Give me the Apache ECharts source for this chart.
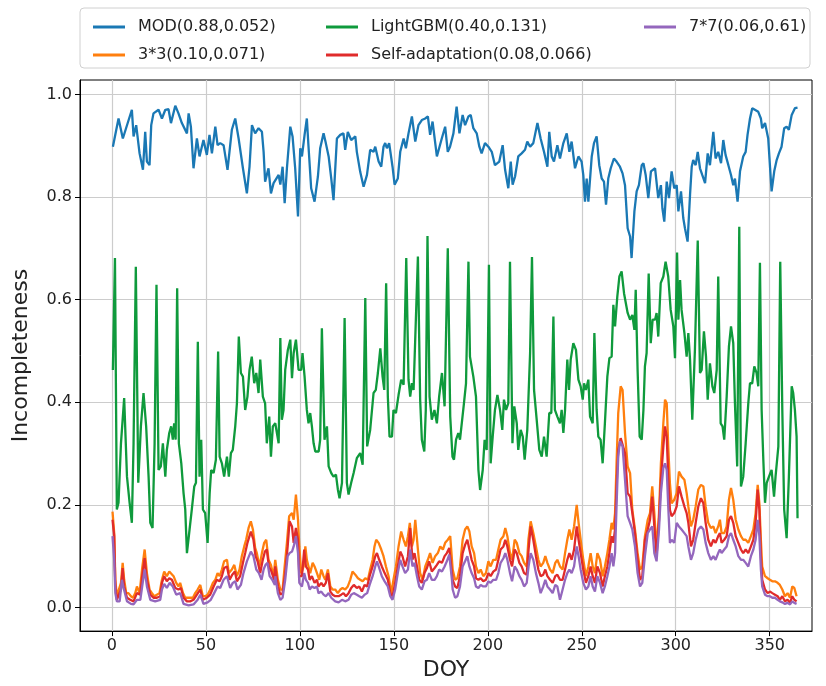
<!DOCTYPE html>
<html><head><meta charset="utf-8">
<script src="https://cdn.jsdelivr.net/npm/echarts@6/dist/echarts.min.js"></script>
<style>html,body{margin:0;padding:0;background:#fff}#c{width:826px;height:686px}</style>
</head><body><div id="c"></div>
<script>
const seriesNames = ['MOD(0.88,0.052)','3*3(0.10,0.071)','LightGBM(0.40,0.131)','Self-adaptation(0.08,0.066)','7*7(0.06,0.61)'];
const xTicks = [0,50,100,150,200,250,300,350];
const yTicks = [0,0.2,0.4,0.6,0.8,1.0];

const modData = [[0.5,.898],[3.5,.953],[5.8,.914],[10.6,.970],[11.5,.918],[12.9,.940],[14.7,.885],[16.5,.853],[17.7,.927],[18.6,.869],[20.0,.862],[20.9,.940],[22.1,.963],[24.8,.970],[26.6,.953],[28.4,.970],[30.1,.971],[31.4,.944],[33.7,.978],[35.4,.963],[37.2,.944],[39.9,.924],[40.8,.963],[42.0,.937],[43.4,.856],[45.2,.914],[46.6,.879],[48.7,.911],[50.5,.882],[51.9,.921],[53.2,.885],[55.0,.937],[56.2,.901],[57.6,.905],[59.4,.901],[61.5,.853],[63.8,.931],[65.6,.953],[67.4,.914],[69.7,.856],[71.8,.807],[73.2,.859],[74.5,.940],[76.2,.924],[78.0,.934],[79.8,.927],[80.7,.888],[81.5,.830],[83.3,.856],[84.6,.807],[86.0,.827],[86.9,.830],[88.7,.843],[89.6,.824],[90.8,.859],[91.9,.788],[93.1,.856],[94.9,.937],[96.1,.918],[97.5,.856],[99.0,.762],[100.2,.895],[101.1,.879],[102.5,.921],[103.7,.953],[104.6,.898],[106.0,.817],[107.8,.791],[109.6,.840],[110.8,.895],[112.6,.924],[113.8,.905],[115.3,.879],[116.7,.836],[117.9,.794],[119.7,.914],[121.5,.921],[123.2,.924],[124.1,.892],[125.5,.927],[127.3,.911],[129.5,.918],[130.3,.888],[132.1,.849],[133.9,.820],[135.7,.843],[137.4,.892],[139.2,.888],[140.1,.898],[141.9,.869],[143.3,.859],[144.5,.898],[145.4,.905],[146.3,.895],[147.5,.905],[149.3,.859],[150.4,.824],[152.1,.836],[153.4,.888],[155.2,.914],[156.4,.895],[157.8,.924],[159.6,.957],[161.4,.908],[163.1,.940],[164.9,.950],[166.7,.953],[168.1,.957],[169.3,.921],[170.6,.947],[172.9,.879],[175.5,.914],[177.3,.937],[178.7,.888],[179.9,.898],[181.7,.924],[183.4,.976],[184.9,.924],[186.6,.960],[187.9,.940],[189.7,.957],[190.9,.960],[192.3,.934],[194.1,.924],[195.5,.898],[196.7,.885],[198.5,.905],[200.3,.898],[202.1,.888],[203.8,.862],[206.1,.869],[207.9,.901],[209.2,.853],[210.9,.817],[212.2,.869],[213.2,.824],[214.5,.840],[216.2,.879],[218.0,.885],[219.8,.892],[221.0,.908],[222.5,.898],[224.2,.905],[226.4,.944],[228.1,.914],[229.9,.888],[231.7,.859],[232.7,.927],[234.0,.879],[235.2,.869],[237.0,.901],[238.4,.875],[240.2,.905],[242.0,.924],[243.4,.888],[244.6,.908],[246.4,.856],[248.2,.879],[249.9,.869],[250.8,.843],[251.7,.791],[252.6,.836],[253.5,.791],[255.3,.879],[256.5,.905],[257.9,.918],[259.3,.862],[260.6,.836],[261.8,.830],[262.9,.785],[264.1,.836],[265.4,.856],[267.1,.875],[268.5,.869],[270.3,.859],[271.7,.846],[273.0,.823],[274.4,.739],[275.7,.723],[276.5,.681],[278.0,.772],[279.2,.811],[280.4,.823],[281.9,.862],[282.8,.866],[284.0,.843],[285.4,.798],[286.8,.850],[289.0,.856],[289.8,.859],[290.7,.798],[292.1,.823],[292.9,.778],[293.9,.752],[295.2,.830],[296.4,.798],[297.8,.850],[299.2,.817],[300.5,.823],[301.4,.772],[302.8,.811],[304.0,.759],[304.9,.739],[306.3,.713],[307.6,.804],[308.5,.859],[309.3,.872],[310.6,.862],[311.7,.888],[312.9,.856],[314.1,.843],[315.6,.827],[317.0,.885],[318.2,.862],[320.0,.927],[321.2,.875],[322.6,.888],[324.1,.866],[325.3,.911],[326.5,.882],[328.0,.862],[329.4,.843],[330.6,.823],[331.5,.836],[332.9,.791],[334.2,.850],[335.9,.879],[337.2,.888],[338.2,.921],[339.5,.953],[340.7,.973],[342.1,.970],[343.9,.966],[345.3,.953],[346.0,.934],[347.5,.944],[349.2,.914],[351.0,.811],[352.4,.850],[353.7,.872],[354.9,.885],[356.3,.898],[357.7,.934],[359.0,.937],[360.2,.931],[361.7,.960],[363.4,.973],[364.8,.974]];

const lgbData = [[0.5,.463],[1.6,.681],[2.6,.191],[3.5,.204],[4.8,.320],[6.5,.408],[8.0,.255],[9.4,.204],[10.6,.165],[11.5,.320],[12.7,.664],[14.0,.243],[15.4,.353],[16.8,.418],[18.2,.353],[19.5,.255],[20.4,.165],[21.6,.155],[22.7,.320],[23.7,.629],[24.8,.268],[26.0,.275],[27.1,.320],[28.4,.255],[29.2,.307],[30.5,.340],[31.5,.353],[32.4,.327],[33.1,.359],[33.9,.327],[34.7,.622],[35.6,.320],[36.9,.281],[38.1,.223],[39.0,.191],[39.9,.106],[41.3,.152],[42.5,.191],[43.8,.236],[44.7,.243],[45.7,.518],[46.6,.255],[47.5,.327],[48.4,.191],[49.6,.184],[50.9,.126],[52.0,.223],[52.8,.268],[54.1,.262],[55.3,.288],[56.5,.499],[57.3,.294],[58.5,.281],[59.7,.255],[61.2,.294],[62.2,.255],[63.3,.301],[64.3,.307],[65.6,.353],[66.5,.398],[67.5,.528],[68.6,.457],[69.7,.450],[70.9,.385],[72.1,.411],[73.2,.463],[74.4,.489],[75.7,.437],[76.8,.457],[78.0,.418],[78.9,.483],[80.3,.411],[81.5,.398],[82.4,.320],[83.7,.372],[84.6,.294],[85.6,.353],[86.9,.359],[88.7,.320],[89.6,.525],[90.4,.366],[91.3,.385],[92.2,.463],[93.6,.502],[94.9,.522],[95.8,.447],[96.7,.496],[97.9,.522],[99.3,.463],[100.7,.463],[101.4,.496],[102.5,.450],[103.7,.385],[104.6,.359],[105.5,.379],[106.4,.353],[107.3,.320],[108.2,.304],[110.0,.304],[110.8,.327],[111.7,.544],[113.1,.327],[114.4,.353],[115.3,.275],[116.7,.262],[117.9,.255],[119.2,.259],[120.2,.230],[121.1,.213],[122.4,.243],[123.8,.564],[125.0,.243],[125.9,.220],[127.3,.243],[128.6,.262],[130.3,.291],[132.1,.301],[133.4,.278],[134.8,.603],[135.8,.314],[137.4,.346],[139.2,.418],[140.4,.424],[141.5,.457],[142.8,.505],[144.0,.450],[144.9,.424],[145.9,.632],[146.8,.411],[147.7,.333],[149.0,.333],[149.8,.385],[151.1,.379],[152.5,.414],[153.9,.444],[155.2,.434],[156.6,.681],[157.8,.444],[158.7,.411],[159.6,.437],[160.5,.424],[162.8,.684],[164.0,.405],[164.9,.327],[166.2,.304],[167.0,.385],[167.9,.724],[169.0,.411],[170.2,.366],[171.6,.385],[172.9,.359],[174.1,.411],[175.6,.457],[177.0,.392],[177.9,.392],[178.7,.700],[180.0,.372],[181.2,.294],[182.0,.288],[183.1,.327],[184.3,.340],[185.2,.327],[186.1,.327],[187.3,.398],[188.4,.437],[189.7,.674],[190.5,.489],[192.3,.450],[193.7,.411],[195.0,.268],[195.9,.229],[197.3,.268],[198.3,.327],[199.4,.307],[200.6,.668],[201.5,.281],[202.6,.333],[203.8,.385],[205.1,.414],[206.5,.385],[207.7,.346],[208.6,.405],[209.7,.385],[210.9,.398],[211.8,.674],[213.1,.320],[214.1,.392],[215.4,.359],[216.2,.307],[217.5,.346],[218.6,.333],[219.6,.288],[221.0,.346],[222.5,.496],[223.5,.683],[224.6,.424],[226.0,.366],[227.4,.307],[228.7,.294],[229.9,.333],[231.3,.294],[232.7,.379],[233.8,.379],[234.9,.567],[235.7,.385],[237.0,.372],[238.4,.359],[239.3,.385],[240.2,.340],[241.1,.385],[242.3,.483],[243.2,.424],[244.1,.483],[245.5,.515],[246.9,.502],[248.2,.444],[249.4,.431],[250.5,.405],[251.2,.437],[252.2,.424],[253.5,.444],[254.4,.372],[255.8,.359],[256.7,.535],[257.9,.385],[258.8,.333],[260.0,.327],[261.1,.281],[262.3,.359],[263.6,.450],[264.7,.486],[265.9,.489],[266.8,.590],[267.7,.548],[268.9,.606],[270.0,.645],[271.2,.655],[272.5,.612],[274.4,.574],[275.7,.561],[276.9,.570],[278.0,.541],[278.7,.619],[279.7,.463],[280.8,.333],[281.9,.327],[282.8,.385],[283.6,.470],[284.5,.496],[285.6,.651],[286.7,.515],[287.7,.561],[289.0,.561],[289.8,.574],[290.7,.528],[292.0,.632],[293.4,.645],[294.6,.674],[296.0,.645],[297.3,.580],[298.7,.548],[299.6,.486],[300.7,.692],[301.4,.561],[302.3,.638],[303.1,.580],[304.6,.535],[305.8,.489],[306.7,.535],[307.6,.483],[308.8,.366],[310.2,.502],[311.7,.715],[312.9,.457],[313.8,.463],[315.0,.538],[316.1,.489],[317.0,.405],[318.2,.476],[319.5,.431],[320.5,.418],[321.8,.463],[322.6,.645],[323.9,.359],[324.9,.353],[325.8,.327],[327.1,.411],[328.3,.509],[329.4,.548],[330.6,.515],[331.5,.398],[332.7,.275],[333.8,.742],[334.7,.236],[335.9,.255],[337.2,.320],[338.6,.398],[339.5,.437],[340.7,.437],[341.8,.470],[343.0,.457],[343.9,.431],[344.8,.672],[345.7,.385],[346.6,.288],[347.5,.204],[348.4,.243],[349.6,.255],[351.0,.268],[352.3,.216],[353.1,.255],[354.6,.314],[355.6,.674],[356.7,.385],[357.7,.191],[359.0,.135],[360.2,.255],[361.7,.431],[362.5,.418],[363.4,.385],[364.3,.333],[364.8,.174]];

const k3Data = [[0.3,.187],[1.2,.145],[1.8,.054],[2.6,.022],[3.5,.022],[4.8,.048],[5.7,.087],[6.5,.054],[7.6,.028],[8.8,.028],[10.1,.022],[11.2,.019],[12.4,.028],[13.3,.041],[14.7,.028],[16.0,.074],[17.4,.113],[18.6,.067],[20.0,.035],[21.3,.028],[22.5,.022],[23.9,.025],[25.3,.028],[26.6,.054],[27.8,.070],[29.2,.061],[30.5,.070],[31.4,.067],[32.8,.061],[34.2,.048],[35.4,.041],[36.3,.048],[37.8,.028],[39.0,.019],[40.2,.019],[41.6,.019],[43.1,.019],[44.3,.028],[45.6,.035],[47.0,.044],[48.4,.022],[49.6,.022],[50.9,.025],[52.3,.035],[53.7,.048],[55.0,.054],[56.2,.067],[57.3,.061],[58.5,.074],[59.7,.090],[61.2,.093],[62.2,.067],[63.8,.074],[65.1,.083],[66.5,.061],[67.9,.074],[69.1,.100],[70.4,.119],[71.4,.132],[72.7,.155],[73.9,.168],[75.0,.152],[76.2,.116],[77.1,.106],[78.5,.080],[79.8,.106],[81.0,.126],[82.1,.132],[83.3,.093],[84.6,.083],[86.0,.061],[86.9,.093],[88.3,.054],[89.6,.035],[90.8,.035],[91.9,.080],[93.1,.126],[94.3,.178],[95.8,.184],[96.7,.171],[97.9,.220],[99.0,.171],[99.7,.119],[100.7,.067],[102.0,.080],[102.9,.119],[103.7,.093],[104.6,.080],[105.5,.067],[106.8,.087],[107.8,.080],[109.1,.067],[110.3,.054],[111.4,.074],[112.6,.061],[113.5,.054],[114.9,.074],[116.2,.041],[117.4,.035],[118.8,.035],[120.2,.028],[121.5,.035],[122.7,.038],[124.1,.035],[125.5,.041],[126.8,.054],[128.0,.070],[129.5,.064],[130.9,.057],[132.1,.054],[133.4,.051],[134.8,.057],[136.2,.054],[137.4,.074],[138.7,.093],[139.7,.119],[140.6,.132],[141.9,.126],[143.3,.113],[144.5,.100],[145.8,.080],[147.2,.061],[148.6,.028],[149.8,.054],[151.1,.080],[152.5,.119],[153.9,.148],[155.2,.132],[156.4,.119],[157.5,.139],[158.5,.165],[159.6,.119],[160.5,.132],[161.4,.171],[162.8,.113],[164.0,.067],[165.3,.054],[166.7,.080],[168.1,.093],[169.3,.106],[170.6,.087],[172.0,.100],[173.4,.106],[174.7,.119],[176.1,.113],[177.3,.126],[178.7,.132],[180.0,.139],[181.3,.074],[182.6,.054],[183.8,.057],[185.2,.080],[186.6,.132],[187.9,.152],[189.1,.158],[190.2,.148],[191.4,.119],[192.7,.106],[193.7,.080],[195.0,.067],[196.2,.074],[197.6,.061],[199.0,.067],[200.3,.090],[201.5,.080],[202.9,.093],[204.4,.093],[205.6,.113],[206.8,.132],[208.3,.139],[209.3,.155],[210.4,.139],[211.8,.106],[212.9,.093],[214.3,.132],[215.4,.126],[216.8,.106],[218.0,.100],[219.3,.087],[220.7,.080],[221.6,.132],[222.8,.168],[224.2,.145],[225.6,.119],[226.9,.093],[228.1,.080],[229.5,.087],[230.6,.100],[231.7,.087],[233.1,.074],[234.5,.067],[235.9,.087],[237.0,.093],[238.4,.080],[239.8,.074],[241.1,.106],[242.3,.132],[243.4,.152],[244.6,.132],[245.9,.158],[247.3,.200],[248.3,.165],[249.4,.132],[250.8,.093],[252.2,.061],[253.5,.080],[254.7,.106],[255.8,.080],[257.0,.067],[258.3,.106],[259.7,.093],[261.1,.061],[262.3,.080],[263.6,.106],[264.7,.132],[265.9,.165],[266.8,.152],[267.7,.184],[268.5,.281],[269.4,.379],[270.7,.431],[271.7,.424],[273.0,.340],[274.4,.275],[275.7,.262],[276.9,.190],[278.3,.152],[279.7,.106],[281.0,.074],[282.2,.080],[283.6,.139],[285.1,.171],[286.3,.184],[287.5,.236],[288.6,.184],[289.8,.113],[291.1,.184],[292.1,.281],[293.4,.359],[294.3,.405],[295.2,.398],[296.0,.314],[296.9,.242],[297.8,.203],[299.2,.210],[300.5,.223],[301.7,.265],[303.1,.255],[304.6,.249],[305.8,.223],[306.7,.197],[308.1,.158],[309.3,.171],[310.6,.197],[312.0,.230],[313.4,.239],[314.7,.236],[315.9,.197],[317.3,.165],[318.7,.155],[320.0,.158],[321.2,.145],[322.6,.158],[323.5,.171],[324.4,.145],[325.8,.145],[327.1,.158],[328.3,.210],[329.4,.233],[330.6,.210],[331.9,.171],[333.3,.152],[334.7,.139],[335.9,.132],[337.2,.132],[338.6,.126],[340.0,.139],[341.3,.152],[342.5,.184],[343.6,.239],[344.5,.203],[345.3,.132],[346.0,.080],[347.5,.061],[348.9,.057],[350.1,.054],[351.4,.051],[352.8,.051],[354.2,.048],[355.4,.044],[356.7,.035],[358.1,.022],[359.5,.028],[360.8,.019],[362.0,.041],[363.1,.038],[364.3,.022]];

const selfData = [[0.3,.171],[1.2,.139],[1.8,.041],[2.6,.015],[3.5,.015],[4.8,.035],[5.7,.077],[6.5,.041],[8.0,.019],[9.7,.015],[11.5,.012],[13.3,.028],[15.1,.025],[16.1,.061],[17.4,.096],[18.6,.054],[20.4,.025],[22.1,.019],[23.9,.019],[25.7,.022],[26.6,.048],[27.8,.061],[29.2,.051],[30.5,.057],[31.9,.054],[33.7,.038],[35.4,.035],[36.7,.038],[38.1,.019],[39.9,.012],[41.6,.012],[43.4,.015],[45.2,.025],[47.0,.035],[48.4,.015],[50.5,.019],[52.3,.025],[54.1,.041],[55.8,.054],[57.3,.051],[58.5,.061],[59.7,.077],[61.2,.080],[62.6,.054],[64.0,.064],[65.4,.070],[66.5,.051],[68.2,.061],[69.7,.087],[70.9,.106],[72.1,.126],[73.9,.148],[75.3,.132],[76.4,.100],[77.5,.090],[78.9,.067],[80.1,.090],[81.4,.109],[82.4,.113],[83.5,.080],[84.9,.070],[86.3,.054],[86.9,.080],[88.3,.041],[89.6,.025],[90.8,.028],[92.2,.067],[93.5,.119],[94.5,.168],[95.8,.158],[96.7,.126],[97.9,.155],[99.0,.132],[99.7,.061],[101.1,.061],[102.3,.113],[103.2,.080],[104.3,.074],[105.2,.054],[106.4,.061],[107.8,.048],[109.1,.054],[109.9,.041],[111.4,.048],[112.6,.041],[113.8,.048],[114.9,.067],[116.2,.031],[117.4,.025],[118.8,.022],[120.6,.022],[122.0,.025],[123.2,.028],[124.5,.022],[125.9,.028],[127.3,.038],[128.7,.044],[130.3,.038],[131.6,.041],[133.0,.031],[134.4,.044],[135.8,.041],[137.1,.061],[138.7,.080],[140.1,.100],[141.0,.106],[142.2,.093],[143.6,.080],[145.1,.067],[146.8,.054],[148.1,.028],[149.3,.022],[150.7,.048],[152.1,.080],[153.4,.109],[154.6,.100],[156.0,.080],[157.5,.100],[158.7,.155],[159.9,.093],[161.0,.106],[162.3,.080],[163.5,.054],[164.9,.048],[166.3,.067],[167.6,.077],[168.8,.090],[170.2,.070],[171.7,.077],[172.9,.083],[174.1,.090],[175.6,.087],[177.0,.100],[178.2,.106],[179.5,.116],[180.9,.067],[181.3,.054],[182.6,.041],[183.8,.038],[185.2,.061],[186.6,.106],[187.9,.122],[189.1,.132],[190.2,.113],[191.4,.093],[192.7,.080],[193.7,.057],[195.0,.054],[196.2,.057],[197.6,.051],[199.0,.054],[200.3,.067],[201.5,.061],[202.9,.070],[204.4,.074],[205.6,.093],[206.8,.113],[208.3,.119],[209.3,.132],[210.4,.119],[211.8,.093],[212.9,.080],[214.3,.113],[215.4,.106],[216.8,.087],[218.0,.080],[219.3,.067],[220.7,.064],[221.7,.113],[222.8,.158],[224.2,.132],[225.6,.100],[226.9,.074],[228.1,.061],[229.5,.064],[230.6,.074],[231.7,.061],[233.1,.054],[234.5,.048],[235.9,.061],[237.0,.064],[238.4,.054],[239.8,.054],[241.1,.074],[242.3,.093],[243.4,.106],[244.6,.093],[245.9,.113],[247.3,.158],[248.3,.132],[249.4,.106],[250.8,.074],[252.2,.048],[253.5,.061],[254.7,.080],[255.8,.061],[257.0,.048],[258.3,.080],[259.7,.067],[261.1,.041],[262.3,.061],[263.6,.080],[264.7,.106],[265.9,.139],[266.8,.126],[267.7,.152],[268.5,.236],[269.4,.307],[270.7,.330],[271.7,.333],[273.0,.301],[274.4,.223],[275.7,.216],[276.9,.184],[278.3,.145],[279.7,.093],[281.0,.054],[282.2,.061],[283.6,.132],[285.1,.152],[286.3,.171],[287.5,.216],[288.6,.158],[289.8,.100],[291.1,.171],[292.1,.249],[293.4,.314],[294.3,.353],[295.2,.333],[296.0,.255],[296.9,.190],[297.8,.178],[299.2,.184],[300.5,.197],[301.7,.236],[303.1,.216],[304.6,.197],[305.8,.184],[306.7,.165],[308.1,.119],[309.3,.132],[310.6,.165],[312.0,.197],[313.4,.213],[314.7,.203],[315.9,.165],[317.3,.132],[318.7,.119],[320.0,.132],[321.2,.126],[322.6,.139],[323.5,.145],[324.4,.126],[325.8,.132],[327.1,.139],[328.3,.171],[329.4,.178],[330.6,.165],[331.9,.139],[333.3,.126],[334.7,.113],[335.9,.106],[337.2,.113],[338.6,.106],[340.0,.119],[341.3,.132],[342.5,.165],[343.6,.230],[344.5,.190],[345.3,.100],[346.0,.054],[347.5,.035],[348.9,.028],[350.1,.031],[351.4,.028],[352.8,.025],[354.2,.022],[355.4,.015],[356.7,.022],[358.1,.012],[359.5,.015],[360.8,.009],[362.0,.022],[363.1,.015],[364.3,.012]];

const k7Data = [[0.3,.139],[1.2,.093],[1.8,.028],[2.6,.012],[4.1,.012],[5.3,.054],[6.2,.038],[8.0,.012],[10.1,.007],[11.5,.006],[13.3,.015],[15.1,.015],[16.1,.041],[17.4,.074],[18.6,.041],[20.4,.015],[23.0,.012],[25.7,.015],[26.6,.035],[27.8,.046],[29.2,.038],[30.7,.048],[32.4,.041],[34.2,.025],[36.3,.028],[38.1,.007],[40.8,.004],[43.4,.006],[45.6,.015],[47.0,.025],[48.7,.007],[50.9,.010],[52.6,.015],[54.4,.028],[56.2,.041],[57.6,.038],[59.4,.054],[61.2,.061],[62.9,.038],[64.3,.048],[65.6,.051],[66.8,.035],[68.6,.044],[70.0,.067],[71.8,.090],[73.9,.109],[75.3,.100],[76.8,.074],[78.2,.067],[79.6,.054],[80.7,.074],[81.7,.083],[82.8,.087],[83.9,.061],[85.3,.054],[86.7,.044],[86.9,.061],[88.3,.028],[89.6,.015],[90.8,.019],[92.2,.054],[93.5,.100],[94.5,.106],[95.8,.109],[96.7,.119],[97.9,.139],[99.0,.106],[99.7,.048],[101.1,.041],[102.3,.067],[103.2,.054],[104.3,.048],[105.2,.035],[106.4,.041],[107.8,.038],[109.1,.041],[109.9,.028],[111.4,.031],[112.6,.025],[113.8,.022],[115.3,.028],[116.7,.019],[118.8,.012],[120.6,.010],[122.4,.015],[124.1,.012],[125.9,.015],[127.3,.025],[128.7,.028],[130.3,.025],[131.6,.022],[133.0,.019],[134.4,.025],[135.8,.028],[137.1,.044],[138.7,.061],[140.1,.080],[141.0,.090],[142.2,.077],[143.6,.061],[145.1,.051],[146.8,.041],[148.1,.022],[149.3,.015],[150.7,.035],[152.1,.067],[153.4,.093],[154.6,.080],[156.0,.067],[157.5,.074],[158.7,.113],[159.9,.080],[161.0,.087],[162.3,.061],[163.5,.041],[164.9,.035],[166.3,.051],[167.6,.054],[168.8,.067],[170.2,.054],[171.7,.054],[172.9,.061],[174.1,.074],[175.6,.070],[177.0,.080],[178.2,.090],[179.5,.103],[180.9,.054],[181.3,.035],[182.6,.019],[183.8,.022],[185.2,.041],[186.6,.080],[187.9,.090],[189.1,.100],[190.2,.080],[191.4,.067],[192.7,.057],[193.7,.041],[195.0,.038],[196.2,.044],[197.6,.041],[199.0,.041],[200.3,.051],[201.5,.048],[202.9,.054],[204.4,.054],[205.6,.067],[206.8,.087],[208.3,.096],[209.3,.106],[210.4,.093],[211.8,.067],[212.9,.051],[214.3,.080],[215.4,.074],[216.8,.061],[218.0,.054],[219.3,.041],[220.7,.048],[221.7,.080],[222.8,.106],[224.2,.093],[225.6,.067],[226.9,.048],[228.1,.028],[229.5,.041],[230.6,.054],[231.7,.041],[233.1,.035],[234.5,.028],[235.9,.044],[237.0,.041],[238.4,.015],[239.8,.035],[241.1,.054],[242.3,.067],[243.4,.074],[244.6,.067],[245.9,.080],[247.3,.119],[248.3,.100],[249.4,.074],[250.8,.048],[252.2,.035],[253.5,.041],[254.7,.061],[255.8,.041],[257.0,.031],[258.3,.061],[259.7,.048],[261.1,.028],[262.3,.041],[263.6,.061],[264.7,.080],[265.9,.106],[266.8,.080],[267.7,.106],[268.5,.197],[269.4,.294],[270.3,.324],[271.7,.314],[273.0,.249],[274.4,.178],[275.7,.165],[276.9,.152],[278.3,.119],[279.7,.067],[281.0,.041],[282.2,.048],[283.6,.100],[285.1,.145],[286.3,.152],[287.5,.158],[288.6,.106],[289.8,.090],[291.1,.152],[292.1,.223],[293.4,.272],[294.3,.281],[295.2,.268],[296.0,.197],[296.9,.126],[297.8,.132],[299.2,.126],[300.5,.165],[301.7,.158],[303.1,.152],[304.6,.145],[305.8,.139],[306.7,.119],[308.1,.093],[309.3,.106],[310.6,.132],[312.0,.152],[313.4,.158],[314.7,.152],[315.9,.126],[317.3,.106],[318.7,.093],[320.0,.100],[321.2,.093],[322.6,.106],[323.5,.113],[324.4,.106],[325.8,.113],[327.1,.119],[328.3,.139],[329.4,.145],[330.6,.132],[331.9,.119],[333.3,.100],[334.7,.093],[335.9,.093],[337.2,.087],[338.6,.080],[340.0,.100],[341.3,.113],[342.5,.132],[343.6,.171],[344.5,.139],[345.3,.074],[346.0,.041],[347.5,.025],[348.9,.022],[350.1,.022],[351.4,.019],[352.8,.019],[354.2,.015],[355.4,.012],[356.7,.010],[358.1,.007],[359.5,.009],[360.8,.006],[362.0,.012],[363.1,.009],[364.3,.007]];

const colors = ['#1a78b4','#ff7f0e','#0f9a3c','#e02b2b','#9467bd'];
const allData = [modData, k3Data, lgbData, selfData, k7Data];

const chart = echarts.init(document.getElementById('c'), null, {renderer:'canvas'});
const FONT = 'DejaVu Sans';
const legendBase = {
  orient:'vertical', icon:'rect', itemWidth:32, itemHeight:3, itemGap:10,
  textStyle:{fontFamily:FONT, fontSize:16, color:'#222', lineHeight:18, padding:[0,0,0,8]},
  selectedMode:false
};
chart.setOption({
  animation:false,
  backgroundColor:'#fff',
  color: colors,
  graphic:[{type:'rect', shape:{x:80,y:8,width:730,height:60,r:4}, style:{fill:'#fff', stroke:'#d0d0d0', lineWidth:1}, z:-1}],
  legend:[
    Object.assign({left:88, top:13, data:[seriesNames[0], seriesNames[1]]}, legendBase),
    Object.assign({left:321, top:13, data:[seriesNames[2], seriesNames[3]]}, legendBase),
    Object.assign({left:639, top:13, data:[seriesNames[4]]}, legendBase)
  ],
  grid:{left:80, right:14, top:80, bottom:54, show:true, borderColor:'#000', borderWidth:1, containLabel:false},
  xAxis:{type:'value', min:-17, max:372.5,
    name:'DOY', nameLocation:'middle', nameGap:15, nameTextStyle:{fontFamily:FONT, fontSize:22, color:'#222', verticalAlign:'top'},
    axisLine:{show:true, onZero:false, lineStyle:{color:'#000'}},
    axisTick:{show:true, customValues:xTicks, length:5, lineStyle:{color:'#000'}},
    axisLabel:{customValues:xTicks, fontFamily:FONT, fontSize:16, color:'#222', margin:7},
    splitLine:{show:true, lineStyle:{color:'#cccccc', width:1.2}}
  },
  yAxis:{type:'value', min:-0.046, max:1.028,
    name:'Incompleteness', nameLocation:'middle', nameGap:48, nameTextStyle:{fontFamily:FONT, fontSize:22, color:'#222'},
    axisLine:{show:true, onZero:false, lineStyle:{color:'#000'}},
    axisTick:{show:true, customValues:yTicks, length:5, lineStyle:{color:'#000'}},
    axisLabel:{customValues:yTicks, fontFamily:FONT, fontSize:16, color:'#222', margin:8, formatter:v=>v.toFixed(1)},
    splitLine:{show:true, lineStyle:{color:'#cccccc', width:1.2}}
  },
  series: seriesNames.map((n,i)=>({
    name:n, type:'line', data:allData[i], showSymbol:false, symbol:'none',
    lineStyle:{width:2.3, color:colors[i]}, itemStyle:{color:colors[i]}, z:2+i
  }))
});
</script></body></html>
